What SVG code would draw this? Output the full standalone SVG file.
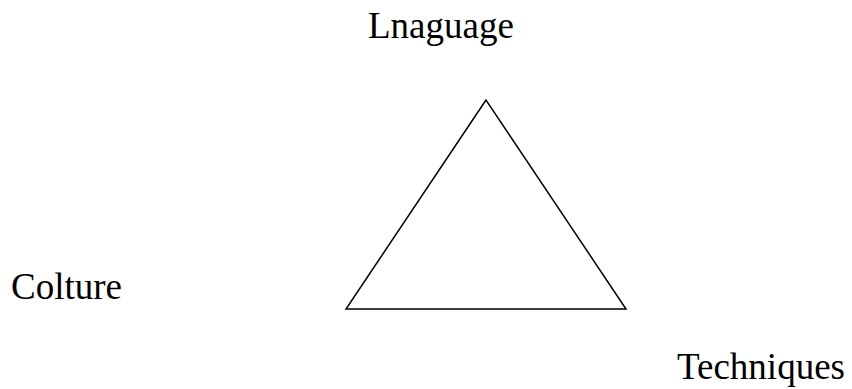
<svg xmlns="http://www.w3.org/2000/svg" width="852" height="389" viewBox="0 0 852 389">
<style>
text{font-family:"Liberation Serif","Times New Roman",serif;font-size:37px;fill:#000}
.edge{fill:none;stroke:#000;stroke-width:1.5}
</style>
<rect width="852" height="389" fill="#fff"/>
<g id="connectors">
<polygon class="edge" points="486,100 346,309 626,309"/>
</g>
<g id="language"><text x="368" y="38">Lnaguage</text></g>
<g id="colture"><text x="11" y="299">Colture</text></g>
<g id="techniques"><text x="677" y="379">Techniques</text></g>
</svg>
